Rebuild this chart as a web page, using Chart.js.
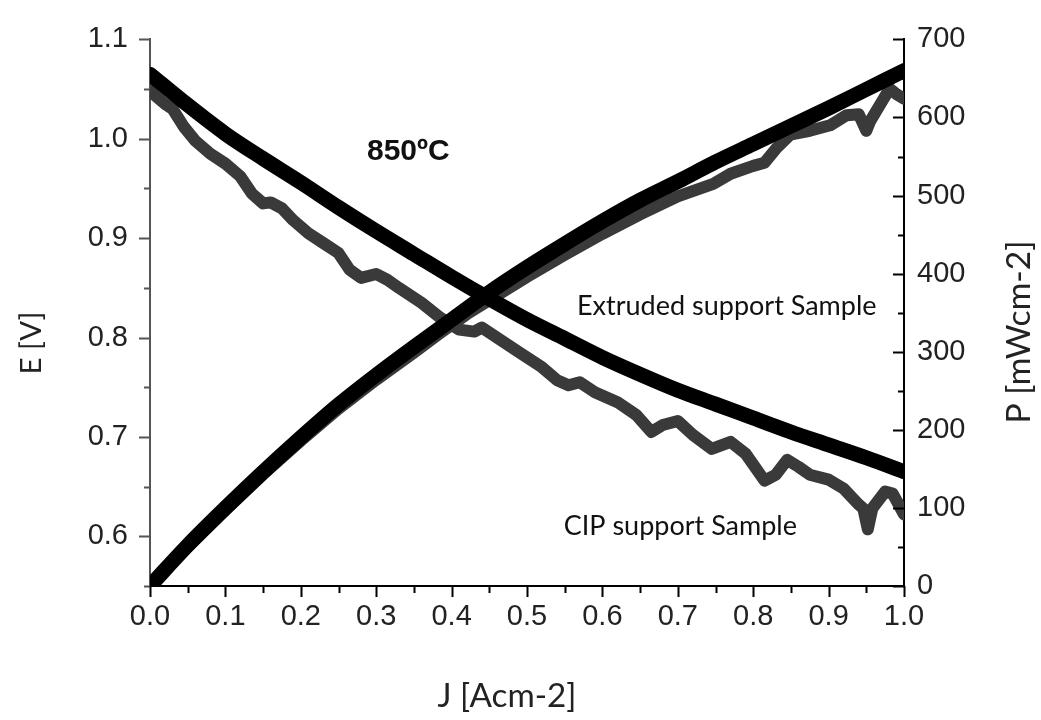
<!DOCTYPE html>
<html>
<head>
<meta charset="utf-8">
<script src="https://cdn.jsdelivr.net/npm/chart.js@4/dist/chart.umd.min.js"></script>
<style>
  html, body { margin: 0; padding: 0; background: #fff; }
  #wrap { width: 1041px; height: 720px; }
</style>
</head>
<body>
<div id="wrap"><canvas id="fuelCellChart" width="1041" height="720"></canvas></div>
<script>
// Extruded support sample (black curves)
const jExtruded = [0, 0.05, 0.1, 0.15, 0.2, 0.25, 0.3, 0.35, 0.4, 0.45, 0.5,
  0.55, 0.6, 0.65, 0.7, 0.75, 0.8, 0.85, 0.9, 0.95, 1.0];
const eExtruded = [1.065, 1.034, 1.005, 0.980, 0.956, 0.931, 0.907, 0.884, 0.861, 0.839, 0.818,
  0.799, 0.780, 0.763, 0.747, 0.733, 0.719, 0.705, 0.692, 0.679, 0.665];
const pExtruded = [0, 52, 100, 146, 190, 232, 270, 306, 341, 376, 408,
  438, 467, 494, 518, 543, 566, 589, 612, 636, 660];

// CIP support sample (grey curves), noisier
const jCipE = [0, 0.02, 0.03, 0.045, 0.06, 0.08, 0.1, 0.12, 0.135, 0.15, 0.16, 0.175, 0.19,
  0.21, 0.23, 0.25, 0.265, 0.28, 0.3, 0.315, 0.33, 0.36, 0.385, 0.41, 0.43, 0.44, 0.46,
  0.49, 0.52, 0.54, 0.555, 0.57, 0.59, 0.62, 0.645, 0.665, 0.68, 0.7, 0.72, 0.745, 0.77,
  0.79, 0.815, 0.83, 0.845, 0.86, 0.875, 0.9, 0.92, 0.94, 0.946, 0.952, 0.958, 0.975,
  0.985, 1.0];
const eCip = [1.048, 1.035, 1.030, 1.012, 0.998, 0.985, 0.975, 0.962, 0.945, 0.935, 0.936,
  0.930, 0.918, 0.905, 0.895, 0.885, 0.868, 0.860, 0.864, 0.858, 0.850, 0.835, 0.820,
  0.808, 0.806, 0.810, 0.800, 0.785, 0.770, 0.757, 0.752, 0.755, 0.745, 0.735, 0.722,
  0.705, 0.712, 0.716, 0.702, 0.688, 0.695, 0.683, 0.656, 0.662, 0.677, 0.670, 0.662,
  0.657, 0.648, 0.632, 0.628, 0.607, 0.628, 0.645, 0.643, 0.622];
const jCipP = [0, 0.05, 0.1, 0.15, 0.2, 0.25, 0.3, 0.35, 0.385, 0.42, 0.45, 0.5, 0.55, 0.6,
  0.65, 0.7, 0.747, 0.77, 0.8, 0.815, 0.831, 0.849, 0.875, 0.902, 0.924, 0.94, 0.95,
  0.955, 0.968, 0.981, 0.99, 1.0];
const pCip = [0, 50, 97, 143, 186, 227, 264, 299, 324, 348, 366, 396, 424, 451,
  476, 499, 515, 528, 538, 542, 561, 578, 583, 590, 603, 604, 583,
  595, 616, 637, 630, 624];

// axis ticks
const xTicks = [0, 0.1, 0.2, 0.3, 0.4, 0.5, 0.6, 0.7, 0.8, 0.9, 1.0];
const eTicks = [0.6, 0.7, 0.8, 0.9, 1.0, 1.1];
const pTicks = [0, 100, 200, 300, 400, 500, 600, 700];

const toPoints = (xs, ys) => xs.map((v, i) => ({ x: v, y: ys[i] }));

const tickFont = { family: "'Liberation Sans', Arial, sans-serif", size: 29 };
const textFamily = "Lato, 'Open Sans', sans-serif";

// size a text so that it spans the given width
function fitFont(ctx, text, width, weight) {
  ctx.font = weight + " 100px " + textFamily;
  const size = (100 * width) / ctx.measureText(text).width;
  return weight + " " + size.toFixed(1) + "px " + textFamily;
}

// minor/major tick marks and the text annotations
const decorations = {
  id: "decorations",
  afterDraw(chart) {
    const ctx = chart.ctx;
    const xs = chart.scales.x;
    const ys = chart.scales.y;
    const ps = chart.scales.y1;
    const area = chart.chartArea;
    ctx.save();
    ctx.lineWidth = 2;

    // left axis, outward
    ctx.strokeStyle = "#555";
    ctx.beginPath();
    eTicks.forEach((v) => {
      const py = Math.round(ys.getPixelForValue(v)) + 0.5;
      ctx.moveTo(area.left - 11, py); ctx.lineTo(area.left, py);
      const pm = Math.round(ys.getPixelForValue(v - 0.05)) + 0.5;
      ctx.moveTo(area.left - 6, pm); ctx.lineTo(area.left, pm);
    });
    ctx.stroke();

    // bottom axis, outward
    ctx.strokeStyle = "#000";
    ctx.beginPath();
    xTicks.forEach((v, i) => {
      const px = Math.round(xs.getPixelForValue(v)) + 0.5;
      ctx.moveTo(px, area.bottom); ctx.lineTo(px, area.bottom + 11);
      if (i > 0) {
        const pm = Math.round(xs.getPixelForValue(v - 0.05)) + 0.5;
        ctx.moveTo(pm, area.bottom); ctx.lineTo(pm, area.bottom + 7);
      }
    });
    ctx.stroke();

    // right axis, inward
    ctx.beginPath();
    pTicks.forEach((v, i) => {
      const py = Math.round(ps.getPixelForValue(v)) + 0.5;
      ctx.moveTo(area.right - 11, py); ctx.lineTo(area.right, py);
      if (i > 0) {
        const pm = Math.round(ps.getPixelForValue(v - 50)) + 0.5;
        ctx.moveTo(area.right - 6, pm); ctx.lineTo(area.right, pm);
      }
    });
    ctx.stroke();

    // annotations
    ctx.fillStyle = "#111";
    ctx.textBaseline = "alphabetic";
    ctx.textAlign = "left";
    ctx.font = "bold 30px 'Liberation Sans', Arial, sans-serif";
    ctx.fillText("850ºC", 367, 160);

    ctx.font = fitFont(ctx, "Extruded support Sample", 300, "normal");
    ctx.fillText("Extruded support Sample", 577, 315);
    ctx.textAlign = "right";
    ctx.fillText("CIP support Sample", 797, 535);

    // axis titles
    ctx.fillStyle = "#222";
    ctx.textAlign = "center";
    ctx.font = fitFont(ctx, "J [Acm-2]", 139, "normal");
    ctx.fillText("J [Acm-2]", 507, 707);

    ctx.save();
    ctx.translate(41, 343);
    ctx.rotate(-Math.PI / 2);
    ctx.font = fitFont(ctx, "E [V]", 63, "normal");
    ctx.fillText("E [V]", 0, 0);
    ctx.restore();

    ctx.save();
    ctx.translate(1030, 332);
    ctx.rotate(-Math.PI / 2);
    ctx.font = fitFont(ctx, "P [mWcm-2]", 183, "normal");
    ctx.fillText("P [mWcm-2]", 0, 0);
    ctx.restore();

    ctx.restore();
  },
};

const lineStyle = {
  pointRadius: 0,
  borderCapStyle: "round",
  borderJoinStyle: "round",
  cubicInterpolationMode: "monotone",
  fill: false,
  clip: 0,
};

new Chart(document.getElementById("fuelCellChart"), {
  type: "line",
  data: {
    datasets: [
      { ...lineStyle, label: "Extruded E", data: toPoints(jExtruded, eExtruded), yAxisID: "y",
        borderColor: "#000", borderWidth: 15, order: 0 },
      { ...lineStyle, label: "Extruded P", data: toPoints(jExtruded, pExtruded), yAxisID: "y1",
        borderColor: "#000", borderWidth: 15, order: 0 },
      { ...lineStyle, label: "CIP E", data: toPoints(jCipE, eCip), yAxisID: "y",
        borderColor: "#3a3a3a", borderWidth: 12, order: 1, cubicInterpolationMode: "default", tension: 0 },
      { ...lineStyle, label: "CIP P", data: toPoints(jCipP, pCip), yAxisID: "y1",
        borderColor: "#3a3a3a", borderWidth: 12, order: 1, cubicInterpolationMode: "default", tension: 0 },
    ],
  },
  options: {
    responsive: false,
    animation: false,
    devicePixelRatio: 1,
    layout: { padding: { top: 30, left: 0, right: 0, bottom: 0 } },
    plugins: { legend: { display: false }, tooltip: { enabled: false } },
    scales: {
      x: {
        type: "linear",
        min: 0,
        max: 1,
        afterBuildTicks: (s) => { s.ticks = xTicks.map((v) => ({ value: v })); },
        afterFit: (s) => { s.height = 134; },
        grid: { drawOnChartArea: false, drawTicks: false },
        border: { color: "#000", width: 2 },
        ticks: { font: tickFont, color: "#222", padding: 14, maxRotation: 0,
          callback: (v) => v.toFixed(1) },
      },
      y: {
        position: "left",
        min: 0.55,
        max: 1.1,
        afterBuildTicks: (s) => { s.ticks = eTicks.map((v) => ({ value: v })); },
        afterFit: (s) => { s.width = 150; },
        grid: { drawOnChartArea: false, drawTicks: false },
        border: { color: "#555", width: 2 },
        ticks: { font: tickFont, color: "#222", padding: 22,
          callback: (v) => v.toFixed(1) },
      },
      y1: {
        position: "right",
        min: 0,
        max: 700,
        afterBuildTicks: (s) => { s.ticks = pTicks.map((v) => ({ value: v })); },
        afterFit: (s) => { s.width = 137; },
        grid: { drawOnChartArea: false, drawTicks: false },
        border: { color: "#000", width: 2 },
        ticks: { font: tickFont, color: "#222", padding: 13 },
      },
    },
  },
  plugins: [decorations],
});
</script>
</body>
</html>
